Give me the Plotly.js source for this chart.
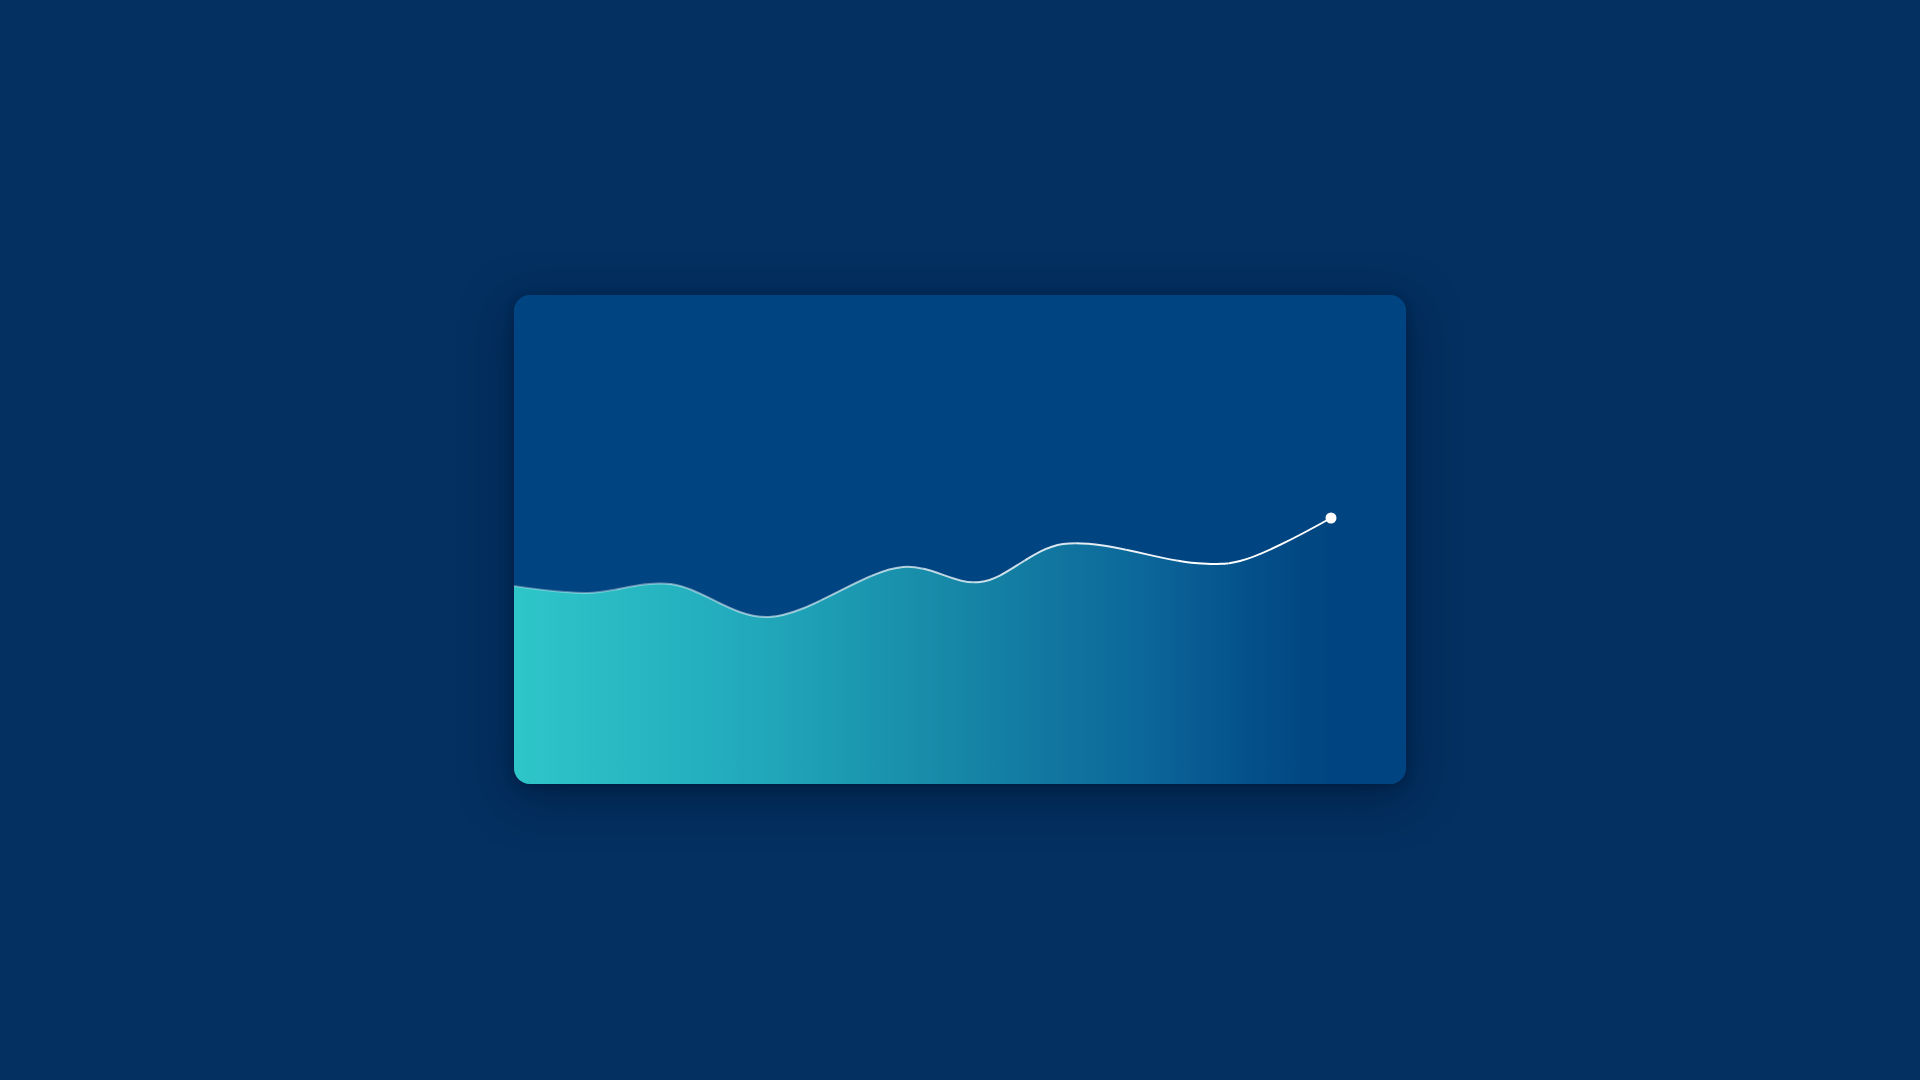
<!DOCTYPE html>
<html>
<head>
<meta charset="utf-8">
<script src="https://cdn.plot.ly/plotly-3.0.1.min.js"></script>
<style>
  html, body { margin:0; padding:0; width:1920px; height:1080px; background:#033060; overflow:hidden; }
  #card {
    position:absolute; left:514px; top:295px; width:892px; height:489px;
    border-radius:16px; overflow:hidden; background:#004582;
    box-shadow: 0 12px 48px rgba(0,18,45,0.55), 0 2px 10px rgba(0,18,45,0.35);
  }
</style>
</head>
<body>
<div id="card"></div>
<script>
// ---- data ----
const positions = [0, 73, 156, 253, 389, 466, 549, 681, 726, 817];
const values    = [198, 191, 200, 167, 217, 202, 240, 221, 223, 266];
const xSpan = [0, 892];
const ySpan = [0, 489];

const CARD = '#004582';
const nSeg = 16;

const traces = [];
const layout = {
  width: 892, height: 489,
  margin: {l:0, r:0, t:0, b:0, pad:0},
  paper_bgcolor: CARD, plot_bgcolor: 'rgba(0,0,0,0)',
  showlegend: false,
  xaxis: {range: xSpan, domain: [0,1], visible: false, fixedrange: true},
  yaxis: {range: ySpan, domain: [0,1], visible: false, fixedrange: true, anchor: 'x'}
};

// filled area with horizontal gradient
traces.push({
  type: 'scatter', mode: 'lines', x: positions, y: values,
  line: {shape: 'spline', smoothing: 1, width: 0, color: 'rgba(0,0,0,0)'},
  fill: 'tozeroy',
  fillgradient: {
    type: 'horizontal',
    colorscale: [[0, '#2ec6c9'], [0.3, '#21a8bb'], [0.55, '#1686a6'], [0.78, '#0b6599'], [0.92, '#034d88'], [1, '#00457f']]
  },
  hoverinfo: 'skip'
});

// line with opacity gradient: same curve drawn on adjacent x-axis slices
const xEnd = positions[positions.length - 1];
for (let k = 0; k < nSeg; k++) {
  const a = xEnd * k / nSeg;
  const b = (k === nSeg - 1) ? xSpan[1] : xEnd * (k + 1) / nSeg;
  const axName = 'xaxis' + (k + 2);
  layout[axName] = {range: [a, b], domain: [a / xSpan[1], b / xSpan[1]], anchor: 'y', visible: false, fixedrange: true};
  const t = (k + 0.5) / nSeg;
  const op = Math.min(1, 0.28 + 0.85 * t);
  traces.push({
    type: 'scatter', mode: 'lines',
    x: positions, y: values, xaxis: 'x' + (k + 2), yaxis: 'y',
    line: {shape: 'spline', smoothing: 1, width: 2, color: 'rgba(255,255,255,' + op.toFixed(3) + ')'},
    hoverinfo: 'skip'
  });
}

// end-point dot
traces.push({
  type: 'scatter', mode: 'markers',
  x: [positions[positions.length - 1]], y: [values[values.length - 1]],
  xaxis: 'x' + (nSeg + 1), yaxis: 'y',
  marker: {size: 11, color: '#ffffff', opacity: 1, line: {width: 0}},
  cliponaxis: false, hoverinfo: 'skip'
});

Plotly.newPlot('card', traces, layout, {displayModeBar: false, staticPlot: true});
</script>
</body>
</html>
